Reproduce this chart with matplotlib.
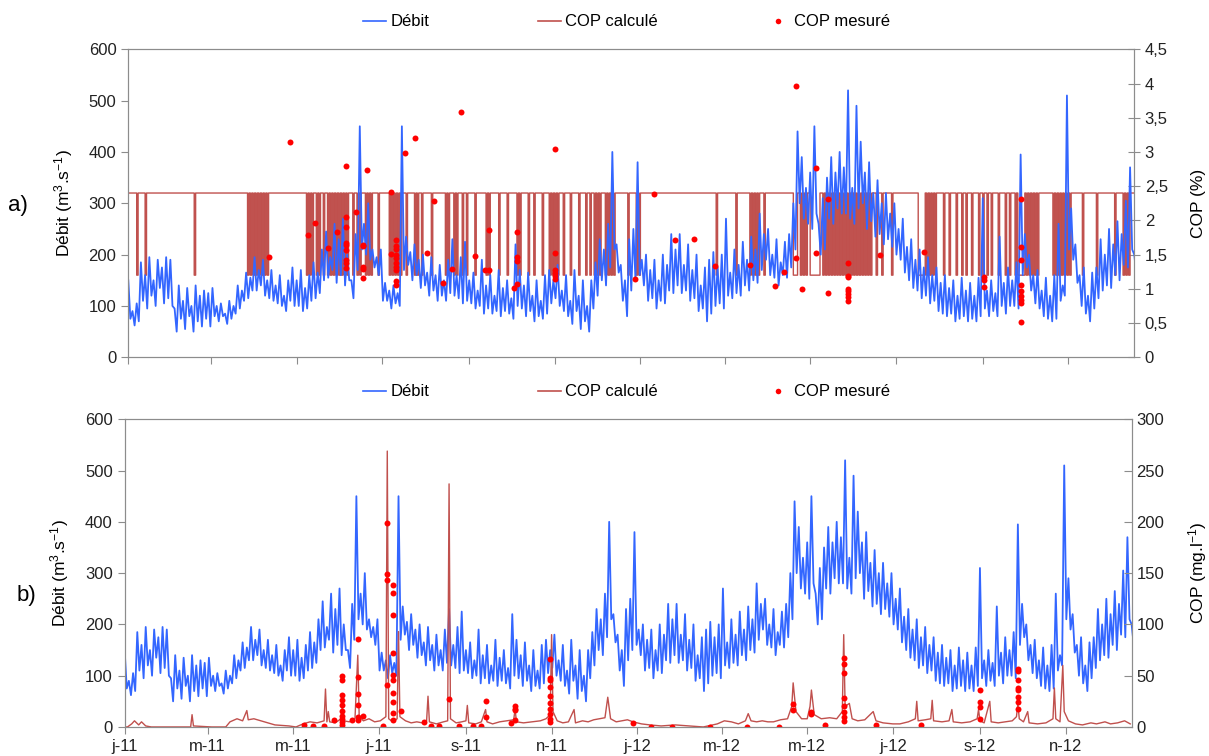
import numpy as np
import matplotlib
matplotlib.use('Agg')
import matplotlib.pyplot as plt
import matplotlib.dates as mdates
from matplotlib.lines import Line2D
from matplotlib.ticker import FuncFormatter, MultipleLocator

plt.rcParams['font.family'] = ['Liberation Sans', 'DejaVu Sans']
plt.rcParams['mathtext.default'] = 'regular'

START = np.datetime64('2011-01-01')
END = np.datetime64('2012-12-18')

# debit (m3/s), read every 3 days from 1 jan 2011 : top and bottom of the daily band
debit_haut = [
  150, 90, 105, 185, 160, 195, 150, 190, 175, 195,
  190, 95, 140, 110, 135, 100, 140, 120, 130, 125,
  135, 100, 105, 85, 110, 100, 140, 130, 165, 155,
  195, 170, 190, 150, 170, 140, 160, 120, 150, 175,
  150, 170, 135, 160, 185, 165, 210, 245, 195, 260,
  230, 270, 200, 150, 240, 450, 260, 300, 210, 195,
  210, 145, 130, 140, 125, 450, 235, 205, 220, 190,
  200, 165, 195, 160, 180, 150, 190, 230, 160, 195,
  225, 150, 165, 130, 190, 140, 160, 120, 170, 135,
  150, 115, 220, 170, 140, 165, 120, 150, 110, 160,
  170, 150, 180, 130, 160, 110, 170, 120, 150, 100,
  150, 185, 230, 210, 260, 400, 220, 180, 150, 230,
  250, 380, 190, 200, 170, 190, 150, 200, 180, 240,
  210, 240, 180, 220, 170, 200, 140, 175, 190, 205,
  175, 200, 270, 165, 210, 180, 225, 190, 235, 210,
  280, 240, 250, 200, 230, 185, 225, 240, 300, 440,
  390, 330, 360, 450, 260, 310, 350, 390, 360, 400,
  370, 520, 330, 490, 420, 360, 380, 320, 345, 300,
  320, 280, 300, 250, 270, 215, 230, 190, 210, 175,
  195, 160, 175, 145, 160, 135, 150, 120, 155, 130,
  145, 120, 155, 310, 130, 150, 125, 235, 145, 175,
  150, 185, 395, 240, 200, 160, 170, 130, 155, 120,
  160, 260, 140, 510, 290, 220, 160, 175, 120, 165,
  175, 230, 200, 250, 220, 265, 240, 305, 370, 200,
]
debit_bas = [
  75, 62, 70, 110, 95, 120, 100, 135, 105, 115,
  100, 50, 75, 55, 80, 50, 70, 60, 75, 60,
  80, 70, 80, 65, 75, 85, 95, 110, 115, 130,
  130, 140, 120, 115, 110, 105, 100, 90, 110, 100,
  100, 90, 95, 110, 115, 125, 150, 155, 170, 145,
  160, 140, 150, 115, 170, 210, 200, 190, 175, 160,
  110, 110, 95, 105, 100, 170, 180, 150, 160, 135,
  140, 120, 130, 110, 120, 110, 125, 120, 115, 105,
  110, 105, 95, 100, 85, 95, 85, 90, 80, 90,
  85, 75, 100, 95, 80, 90, 70, 80, 75, 85,
  105, 115, 100, 90, 80, 65, 90, 55, 70, 50,
  95, 120, 150, 140, 175, 210, 165, 110, 80, 130,
  150, 160, 140, 110, 115, 95, 110, 105, 130, 125,
  140, 125, 130, 110, 115, 90, 95, 70, 85, 100,
  105, 95, 120, 115, 125, 120, 140, 130, 150, 145,
  170, 190, 160, 155, 140, 160, 155, 175, 210, 300,
  270, 260, 250, 280, 200, 210, 270, 260, 290, 280,
  280, 270, 260, 290, 300, 250, 265, 235, 240, 220,
  230, 215, 200, 190, 165, 150, 135, 130, 115, 120,
  105, 110, 90, 85, 80, 85, 70, 75, 80, 70,
  75, 70, 80, 95, 80, 90, 80, 100, 85, 100,
  100, 95, 160, 175, 130, 105, 95, 80, 75, 70,
  75, 110, 120, 210, 190, 145, 100, 85, 70, 95,
  115, 130, 140, 135, 160, 150, 180, 175, 210, 160,
]

# a) COP calcule (%) : 2.4 except on these days (1.2)
cop_haut = 2.4
cop_bas = 1.2
jours_bas = [
  6, 12, 47,
  85, 87, 89, 91, 93, 95, 97, 99,
  127, 129, 131, 134, 136, 139, 142, 144, 146, 148, 150, 152, 154, 156, 160, 163, 165, 169, 171, 173, 178,
  186, 188, 190, 192, 194, 198, 204, 206, 209, 216, 226, 228, 232, 234, 238, 241, 247, 255, 257, 264, 270,
  277, 279, 285, 289, 295, 300, 302, 304, 306, 310, 315, 321, 326, 329, 332, 334, 336, 340, 342, 344, 346,
  356, 362, 364, 419, 433, 443, 445, 447, 449, 453,
  474, 475, 476, 479, 481, 483, 486, 487, 488, 489, 490, 491, 492,
  495, 497, 499, 501, 503, 505, 507, 509, 511, 513, 515, 517, 519, 521, 523, 525, 527, 529,
  533, 537, 544,
  563, 564, 565, 566, 567, 569, 571, 573, 575,
  581, 585, 590, 594, 597, 601, 606, 609, 612, 615, 620, 625, 628, 632,
  634, 635, 636, 637, 638, 640, 642, 644, 646, 648,
  659, 661, 663, 665, 667, 669, 671,
  680, 690, 703, 709, 711, 713,
]

# a) COP mesure (%)
mes_pct_jours = [100, 115, 128, 133, 142, 149,
  155, 155, 155, 155, 155, 155, 155, 155, 155, 162,
  167, 167, 167, 167, 167, 170, 187, 187,
  191, 191, 191, 191, 191, 191, 191, 191, 191, 191,
  197, 204, 213, 218, 224, 231, 237, 247, 254, 257, 257, 275, 277, 277, 277, 277,
  304, 304, 304, 304, 304, 304, 361, 375, 390, 403, 418, 443, 461, 467, 476, 476, 480,
  490, 490, 499, 499, 513, 513, 513, 513, 513, 513, 513, 513, 536, 567, 610, 610, 610,
  636, 636, 636, 636, 636, 636, 636, 636, 636]
mes_pct = [1.47, 3.15, 1.79, 1.96, 1.60, 1.83,
  2.79, 2.05, 1.91, 1.67, 1.64, 1.57, 1.42, 1.38, 1.30, 2.12,
  1.64, 1.62, 1.32, 1.29, 1.16, 2.74, 2.41, 1.51,
  1.71, 1.62, 1.58, 1.49, 1.45, 1.38, 1.32, 1.28, 1.12, 1.06,
  2.99, 3.20, 1.52, 2.28, 1.08, 1.29, 3.58, 1.48, 1.28, 1.28, 1.86, 1.01, 1.83, 1.46, 1.40, 1.07,
  3.04, 1.53, 1.28, 1.23, 1.19, 1.14, 1.14, 2.38, 1.71, 1.73, 1.33, 1.35, 1.04, 1.25, 3.97, 1.45, 1.00,
  2.76, 1.53, 2.31, 0.94, 1.38, 1.19, 1.17, 1.00, 0.97, 0.92, 0.88, 0.82, 1.50, 1.54, 1.17, 1.13, 1.02,
  2.31, 1.61, 1.42, 1.06, 0.97, 0.90, 0.84, 0.80, 0.51]

# b) COP calcule (mg/l)
calc_mg_jours = [0, 2, 5, 7, 10, 12, 15, 19, 32, 47, 48, 49, 62, 72, 75, 80, 84, 87, 88, 92,
  97, 102, 107, 117, 122, 127, 132, 137, 142, 143, 144, 145, 146, 150, 154, 155, 156, 160, 164, 166,
  167, 170, 174, 178, 182, 186, 187, 188, 191, 194, 195, 196, 200, 204, 208, 212, 215, 216, 217, 222,
  227, 230, 231, 232, 236, 240, 243, 244, 245, 250, 254, 257, 258, 262, 267, 272, 277, 278, 279, 284,
  290, 296, 300, 303, 304, 305, 308, 312, 316, 320, 321, 326, 330, 334, 338, 342, 344, 346, 350, 354,
  358, 362, 368, 374, 382, 392, 402, 412, 422, 427, 432, 437, 442, 444, 446, 450, 454, 458, 462, 467,
  472, 475, 476, 478, 482, 486, 488, 489, 491, 496, 502, 507, 511, 512, 513, 516, 518, 522, 527, 533,
  535, 540, 547, 552, 558, 563, 564, 565, 570, 574, 575, 576, 582, 587, 589, 590, 596, 602, 607, 608,
  609, 612, 616, 617, 622, 627, 632, 635, 636, 637, 640, 643, 644, 650, 656, 661, 662, 663, 666, 668,
  669, 672, 677, 682, 688, 692, 698, 702, 707, 712, 716]
calc_mg = [0, 0, 3, 6, 2, 5, 1, 0, 0, 0, 12, 1, 0, 0, 5, 8, 6, 16, 7, 8,
  6, 4, 2, 1, 0, 3, 5, 4, 6, 37, 5, 15, 5, 4, 8, 20, 6, 5, 8, 70,
  10, 6, 8, 5, 6, 10, 269, 8, 5, 8, 93, 10, 6, 4, 5, 4, 6, 30, 5, 3,
  5, 6, 237, 8, 4, 5, 6, 21, 4, 3, 5, 17, 5, 3, 5, 6, 7, 17, 5, 4,
  5, 6, 8, 12, 90, 15, 6, 4, 5, 17, 4, 6, 5, 7, 8, 9, 29, 8, 5, 6,
  7, 5, 3, 2, 1, 2, 1, 0, 3, 6, 5, 3, 6, 13, 6, 5, 6, 5, 5, 7,
  8, 20, 43, 15, 8, 8, 20, 36, 12, 8, 9, 8, 15, 90, 20, 23, 8, 6, 7, 15,
  6, 4, 3, 3, 5, 8, 25, 6, 7, 8, 26, 6, 5, 6, 17, 5, 4, 5, 8, 17,
  6, 4, 25, 5, 4, 5, 6, 10, 23, 8, 5, 15, 4, 3, 4, 8, 38, 8, 5, 60,
  15, 6, 3, 2, 4, 3, 5, 3, 4, 6, 3]

# b) COP mesure (mg/l)
mes_mg_jours = [128, 134, 142, 149,
  155, 155, 155, 155, 155, 155, 155, 155, 155, 155, 162,
  166, 166, 166, 166, 166, 166, 170, 184,
  187, 187, 187, 187,
  191, 191, 191, 191, 191, 191, 191, 191, 191, 191,
  197, 213, 218, 224, 231, 238, 248, 254, 257, 257, 275, 278, 278, 278, 278,
  303, 303, 303, 303, 303, 303, 303, 303, 303, 303,
  362, 375, 390, 417, 443, 466, 476, 476, 489, 489, 499,
  512, 512, 512, 512, 512, 512, 512, 512, 535, 567,
  609, 609, 609, 609,
  636, 636, 636, 636, 636, 636, 636, 636]
mes_mg = [2, 1, 1, 7,
  50, 46, 31, 26, 21, 16, 11, 8, 5, 2, 7,
  86, 49, 32, 21, 10, 7, 11, 1,
  199, 149, 143, 41,
  138, 131, 109, 72, 51, 46, 33, 24, 14, 7,
  16, 5, 1, 1, 27, 1, 1, 1, 10, 25, 4, 20, 18, 17, 7,
  66, 48, 46, 39, 30, 23, 18, 13, 8, 5,
  4, 0, 0, 0, 0, 0, 22, 17, 15, 13, 2,
  67, 61, 53, 28, 20, 15, 10, 6, 2, 2,
  36, 24, 19, 8,
  57, 55, 46, 38, 36, 29, 24, 18]

BLEU = '#3366FF'
BRUN = '#C0504D'
ROUGE = '#FF0000'
GRIS = '#8C8C8C'

def jours(d):
  return START + (np.array(d, dtype=float) * 24).astype('timedelta64[h]')

# band read as alternating top / bottom values, half a step apart
x_debit = np.ravel(np.column_stack([np.arange(len(debit_haut)) * 3.0,
                                    np.arange(len(debit_haut)) * 3.0 + 1.5]))
y_debit = np.ravel(np.column_stack([debit_haut, debit_bas]))

mois = {1: 'j', 3: 'm', 5: 'm', 7: 'j', 9: 's', 11: 'n'}
def fmt_date(v, pos):
  d = mdates.num2date(v)
  return '%s-%s' % (mois.get(d.month, '?'), str(d.year)[2:])

def virgule(v, pos):
  return ('%g' % v).replace('.', ',')

def habille(ax, axr):
  for a in (ax, axr):
    for s in a.spines.values():
      s.set_color(GRIS)
  ax.set_xlim(START, END)
  ax.set_ylim(0, 600)
  ax.yaxis.set_major_locator(MultipleLocator(100))
  ax.xaxis.set_major_locator(mdates.MonthLocator(bymonth=[1, 3, 5, 7, 9, 11]))
  ax.xaxis.set_major_formatter(FuncFormatter(fmt_date))
  ax.tick_params(axis='both', direction='out', length=5, color=GRIS, labelsize=12, labelcolor='#222222')
  ax.set_ylabel('Débit (m$^{3}$.s$^{-1}$)', fontsize=12.5, labelpad=10)

fig = plt.figure(figsize=(12.09, 7.56), dpi=100)

# ---- a)
ax1 = fig.add_axes([0.1061, 0.5274, 0.8321, 0.4074])
ax1r = ax1.twinx()
ax1.set_zorder(ax1r.get_zorder() + 1)
ax1.patch.set_visible(False)

n = int((END - START).astype(int)) + 1
cop_pct = np.full(n, cop_haut)
cop_pct[jours_bas] = cop_bas
ax1r.plot(jours(np.arange(n)), cop_pct, color=BRUN, lw=1.0, drawstyle='steps-post')
ax1.plot(jours(x_debit), y_debit, color=BLEU, lw=1.3)
ax1.plot(jours(mes_pct_jours), mes_pct, ls='none', marker='o', ms=4.3, color=ROUGE, mec='none',
         transform=ax1r.transData)

habille(ax1, ax1r)
ax1.tick_params(axis='x', labelbottom=False)
ax1r.set_ylim(0, 4.5)
ax1r.yaxis.set_major_locator(MultipleLocator(0.5))
ax1r.yaxis.set_major_formatter(FuncFormatter(virgule))
ax1r.tick_params(direction='inout', length=8, color=GRIS, labelsize=12, labelcolor='#222222')
ax1r.set_ylabel('COP (%)', fontsize=12.5, labelpad=17)

# ---- b)
ax2 = fig.add_axes([0.1031, 0.0384, 0.8329, 0.4070])
ax2r = ax2.twinx()
ax2.plot(jours(x_debit), y_debit, color=BLEU, lw=1.3)
ax2r.plot(jours(calc_mg_jours), calc_mg, color=BRUN, lw=1.0)
ax2r.plot(jours(mes_mg_jours), mes_mg, ls='none', marker='o', ms=4.3, color=ROUGE, mec='none')

habille(ax2, ax2r)
ax2r.set_ylim(0, 300)
ax2r.yaxis.set_major_locator(MultipleLocator(50))
ax2r.tick_params(direction='in', length=6, color=GRIS, labelsize=12, labelcolor='#222222')
ax2r.set_ylabel('COP (mg.l$^{-1}$)', fontsize=12.5, labelpad=16)

# legends
poignees = [Line2D([], [], color=BLEU, lw=1.2),
            Line2D([], [], color=BRUN, lw=1.2),
            Line2D([], [], ls='none', marker='o', ms=4, color=ROUGE, mec='none')]
noms = ['Débit', 'COP calculé', 'COP mesuré']
for yy in (0.971, 0.4815):
  fig.legend(poignees, noms, loc='center', bbox_to_anchor=(0.518, yy), ncol=3, frameon=False,
             columnspacing=6.5, handlelength=1.4, handletextpad=0.25, fontsize=12)

fig.text(0.007, 1 - 205 / 756, 'a)', fontsize=16, va='center')
fig.text(0.014, 1 - 596 / 756, 'b)', fontsize=16, va='center')

fig.savefig('out.png', dpi=100)
